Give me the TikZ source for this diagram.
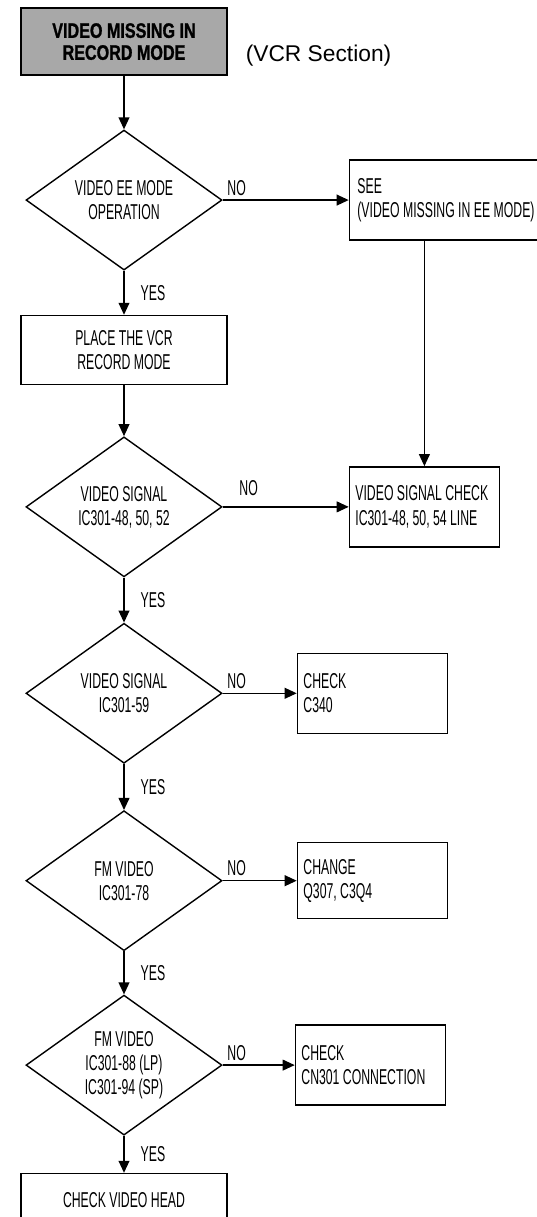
\documentclass[tikz,border=0pt]{standalone}
\usepackage{fontspec}
\setmainfont{Liberation Sans}[FakeStretch=0.57]
\newfontfamily\headfont{Liberation Sans}[FakeStretch=0.77, BoldFeatures={FakeBold=1.2}]
\newfontfamily\notefont{Liberation Sans}
\usepackage{tikz}
\usetikzlibrary{shapes.geometric, arrows.meta, positioning}
\definecolor{HeadGray}{gray}{0.66}

\begin{document}
\begin{tikzpicture}[
    font=\fontsize{15.3}{17.1}\selectfont,
    line width=1pt,
    box/.style={draw, align=center, minimum width=5.15cm, minimum height=1.725cm},
    start/.style={box, fill=HeadGray, line width=1.8pt, minimum height=1.675cm, font=\headfont\bfseries\fontsize{14.9}{15.6}\selectfont},
    check/.style={draw, align=flush left, text width=3.45cm, inner xsep=0.15cm, minimum height=2cm},
    decision/.style={draw, diamond, aspect=1.4, inner sep=0pt, align=center, minimum width=4.9cm, minimum height=3.5cm},
    arrow/.style={-{Triangle[length=0.3cm, width=0.27cm]}},
    yeslabel/.style={right, inner sep=0pt, xshift=0.4cm},
    nolabel/.style={above right, inner sep=0.1cm}
]
\useasboundingbox (0,0) rectangle (13.425,-30.425);

% main column
\node[start] (title) at (3.1,-1.04) {VIDEO MISSING IN\\RECORD MODE};
\node[right=0.42cm of title, yshift=-0.35cm, inner sep=0pt, font=\notefont\fontsize{16.2}{19}\selectfont] (section) {(VCR Section)};
\node[decision, below=1.325cm of title] (ee) {VIDEO EE MODE\\OPERATION};
\node[box, below=1.1cm of ee] (place) {PLACE THE VCR\\RECORD MODE};
\node[decision, below=1.275cm of place] (sig1) {VIDEO SIGNAL\\IC301-48, 50, 52};
\node[decision, below=1.125cm of sig1] (sig2) {VIDEO SIGNAL\\IC301-59};
\node[decision, below=1.15cm of sig2] (fm1) {FM VIDEO\\IC301-78};
\node[decision, below=1.075cm of fm1] (fm2) {FM VIDEO\\IC301-88 (LP)\\IC301-94 (SP)};
\node[box, below=0.925cm of fm2, minimum height=1.35cm] (vhead) {CHECK VIDEO HEAD};

% NO branches
\node[check, right=3.15cm of ee, text width=4.6cm, inner xsep=0.2cm] (see) {SEE\\(VIDEO MISSING IN EE MODE)};
\node[check, right=3.15cm of sig1] (sigcheck) {VIDEO SIGNAL CHECK\\IC301-48, 50, 54 LINE};
\node[check, right=1.85cm of sig2] (c340) {CHECK\\C340};
\node[check, right=1.85cm of fm1, minimum height=1.9cm] (q307) {CHANGE\\Q307, C3Q4};
\node[check, right=1.8cm of fm2] (cn301) {CHECK\\CN301 CONNECTION};

\draw[arrow] (title) -- (ee);
\draw[arrow] (ee) -- node[yeslabel] {YES} (place);
\draw[arrow] (place) -- (sig1);
\draw[arrow] (sig1) -- node[yeslabel] {YES} (sig2);
\draw[arrow] (sig2) -- node[yeslabel] {YES} (fm1);
\draw[arrow] (fm1) -- node[yeslabel] {YES} (fm2);
\draw[arrow] (fm2) -- node[yeslabel] {YES} (vhead);

\draw[arrow] (ee) -- node[nolabel, pos=0] {NO} (see);
\draw[arrow] (sig1) -- node[nolabel, pos=0, xshift=0.3cm, yshift=0.15cm] {NO} (sigcheck);
\draw[arrow] (sig2) -- node[nolabel, pos=0] {NO} (c340);
\draw[arrow] (fm1) -- node[nolabel, pos=0] {NO} (q307);
\draw[arrow] (fm2) -- node[nolabel, pos=0] {NO} (cn301);
\draw[arrow] (see.south -| sigcheck.north) -- (sigcheck);
\end{tikzpicture}
\end{document}
